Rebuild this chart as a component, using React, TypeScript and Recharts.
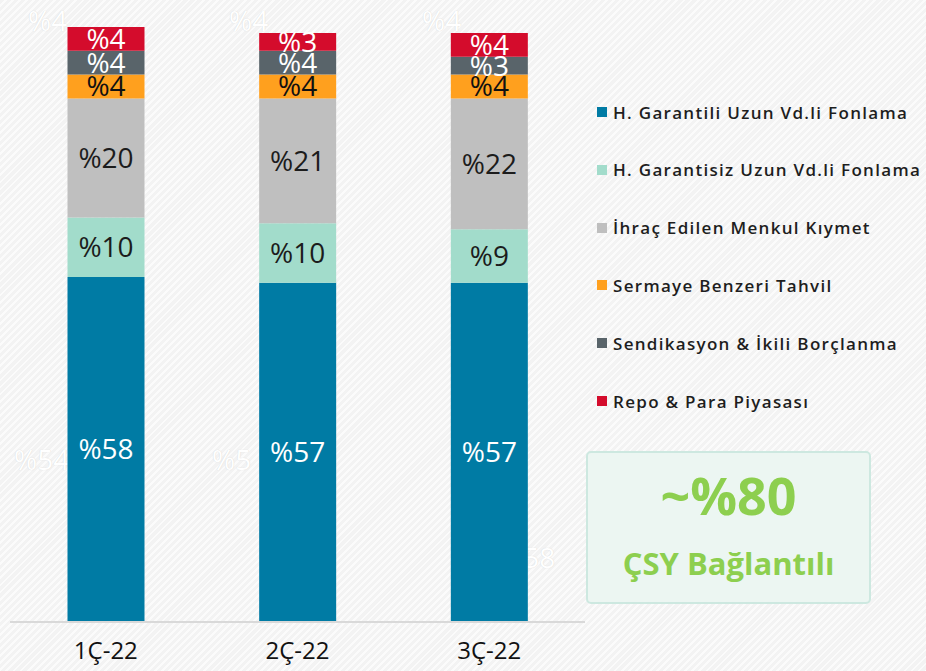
import { BarChart, Bar, XAxis, YAxis, LabelList } from "recharts";

const categories = ["1Ç-22", "2Ç-22", "3Ç-22"];
const garantili = [58, 57, 57];
const garantisiz = [10, 10, 9];
const ihrac = [20, 21, 22];
const sermaye = [4, 4, 4];
const sendikasyon = [4, 4, 3];
const repo = [4, 3, 4];

const seriesNames = [
  "H. Garantili Uzun Vd.li Fonlama",
  "H. Garantisiz Uzun Vd.li Fonlama",
  "İhraç Edilen Menkul Kıymet",
  "Sermaye Benzeri Tahvil",
  "Sendikasyon & İkili Borçlanma",
  "Repo & Para Piyasası",
];
const seriesKeys = ["garantili", "garantisiz", "ihrac", "sermaye", "sendikasyon", "repo"];
const seriesColors = ["#007ba4", "#a2dccb", "#bfbfbf", "#ffa01e", "#59646a", "#d40c2c"];
const labelColors = ["#ffffff", "#1c1c1c", "#1c1c1c", "#111111", "#ffffff", "#ffffff"];

const data = categories.map((c, i) => ({
  name: c,
  garantili: garantili[i],
  garantisiz: garantisiz[i],
  ihrac: ihrac[i],
  sermaye: sermaye[i],
  sendikasyon: sendikasyon[i],
  repo: repo[i],
}));

const font = "'Open Sans', sans-serif";

// faded leftovers behind the bars
const ghosts = [
  { t: "%4", x: 28, y: 2 },
  { t: "%4", x: 229, y: 2 },
  { t: "%4", x: 422, y: 2 },
  { t: "%54", x: 14, y: 441 },
  { t: "%5", x: 212, y: 441 },
  { t: "%58", x: 500, y: 539 },
];

export default function App() {
  return (
    <div
      style={{
        position: "relative",
        width: 926,
        height: 671,
        overflow: "hidden",
        fontFamily: font,
        background:
          "repeating-linear-gradient(135deg, #f3f3f3 0px, #f3f3f3 3px, #fbfbfb 3px, #fbfbfb 5px)",
      }}
    >
      <style>{"body{margin:0}"}</style>
      {ghosts.map((g, i) => (
        <div
          key={i}
          style={{
            position: "absolute",
            left: g.x,
            top: g.y,
            fontSize: 28,
            color: "#ffffff",
            textShadow: "0 0 1px #cfcfcf",
            lineHeight: "36px",
          }}
        >
          {g.t}
        </div>
      ))}
      <div style={{ position: "absolute", left: 0, top: 0 }}>
        <BarChart
          width={926}
          height={671}
          data={data}
          margin={{ top: 27, right: 341, bottom: 0, left: 10 }}
          barCategoryGap="30%"
        >
          <XAxis
            dataKey="name"
            height={49}
            tickLine={false}
            axisLine={{ stroke: "#d9d9d9", strokeWidth: 2 }}
            tick={{ fill: "#111", fontSize: 24, fontFamily: font }}
            tickMargin={14}
          />
          <YAxis hide domain={[0, 100]} />
          {seriesKeys.map((k, i) => (
            <Bar
              key={k}
              dataKey={k}
              stackId="a"
              fill={seriesColors[i]}
              isAnimationActive={false}
            >
              <LabelList
                dataKey={k}
                position="center"
                formatter={(v: any) => "%" + v}
                fill={labelColors[i]}
                fontSize={28}
                fontFamily={font}
              />
            </Bar>
          ))}
        </BarChart>
      </div>
      {seriesNames.map((n, i) => (
        <div
          key={n}
          style={{
            position: "absolute",
            left: 597,
            top: 101 + i * 57.8,
            height: 22,
            display: "flex",
            alignItems: "center",
            fontSize: 17,
            fontWeight: 600,
            letterSpacing: 1.3,
            color: "#1e1e1e",
            whiteSpace: "nowrap",
          }}
        >
          <span
            style={{
              display: "inline-block",
              width: 10,
              height: 10,
              background: seriesColors[i],
              marginRight: 6,
            }}
          />
          {n}
        </div>
      ))}
      <div
        style={{
          position: "absolute",
          left: 586,
          top: 451,
          width: 281,
          height: 149,
          border: "2px solid #cde8e0",
          borderRadius: 5,
          background: "#ecf6f2",
          color: "#8dcf4f",
          fontWeight: 700,
          textAlign: "center",
        }}
      >
        <div style={{ fontSize: 52, lineHeight: "60px", marginTop: 12 }}>~%80</div>
        <div style={{ fontSize: 31, lineHeight: "40px", marginTop: 18 }}>ÇSY Bağlantılı</div>
      </div>
    </div>
  );
}
